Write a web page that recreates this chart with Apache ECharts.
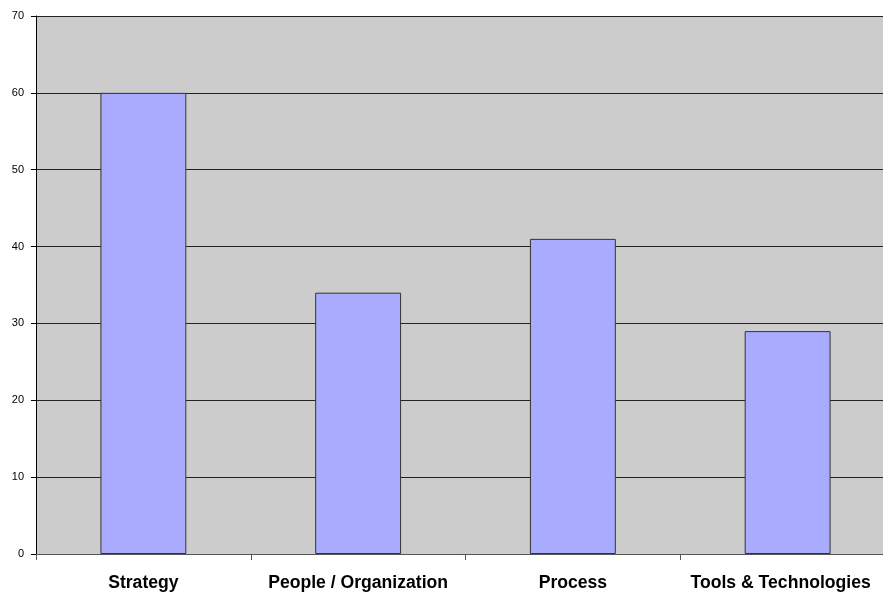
<!DOCTYPE html>
<html>
<head>
<meta charset="utf-8">
<script src="https://cdn.jsdelivr.net/npm/echarts@6/dist/echarts.min.js"></script>
<style>
  html, body { margin: 0; padding: 0; background: #ffffff; }
  #chart { width: 883px; height: 592px; }
</style>
</head>
<body>
<div id="chart"></div>
<script>
const categories = ['Strategy', 'People / Organization', 'Process', 'Tools & Technologies'];
const values = [60, 34, 41, 29];
const yTicks = [0, 10, 20, 30, 40, 50, 60, 70];

// the last category label is nudged left so it stays inside the page
const categoryItems = categories.map((name, i) => (
  i === categories.length - 1
    ? { value: name, textStyle: { padding: [0, 14, 0, 0] } }
    : name
));

const chart = echarts.init(document.getElementById('chart'), null, { renderer: 'canvas' });

chart.setOption({
  animation: false,
  backgroundColor: '#ffffff',
  grid: {
    left: 36,
    top: 16,
    right: -12,
    bottom: 38,
    outerBoundsMode: 'none',
    containLabel: false,
    show: true,
    backgroundColor: '#cccccc',
    borderWidth: 0
  },
  xAxis: {
    type: 'category',
    data: categoryItems,
    axisLine: { show: true, lineStyle: { color: '#555555', width: 1 } },
    axisTick: { show: true, alignWithLabel: false, length: 6, lineStyle: { color: '#555555' } },
    axisLabel: {
      color: '#000000',
      fontFamily: 'Liberation Sans, Arial, sans-serif',
      fontWeight: 'bold',
      fontSize: 17.6,
      margin: 20,
      interval: 0
    }
  },
  yAxis: {
    type: 'value',
    min: yTicks[0],
    max: yTicks[yTicks.length - 1],
    interval: 10,
    axisLine: { show: true, lineStyle: { color: '#000000', width: 1 } },
    axisTick: { show: true, inside: false, length: 5, lineStyle: { color: '#000000' } },
    axisLabel: {
      color: '#000000',
      fontFamily: 'Liberation Sans, Arial, sans-serif',
      fontSize: 11,
      margin: 12
    },
    splitLine: { show: true, lineStyle: { color: '#222222', width: 1 } }
  },
  series: [{
    type: 'bar',
    data: values,
    barWidth: '40%',
    itemStyle: {
      color: '#a9abff',
      borderColor: '#333333',
      borderWidth: 1
    }
  }]
});
</script>
</body>
</html>
